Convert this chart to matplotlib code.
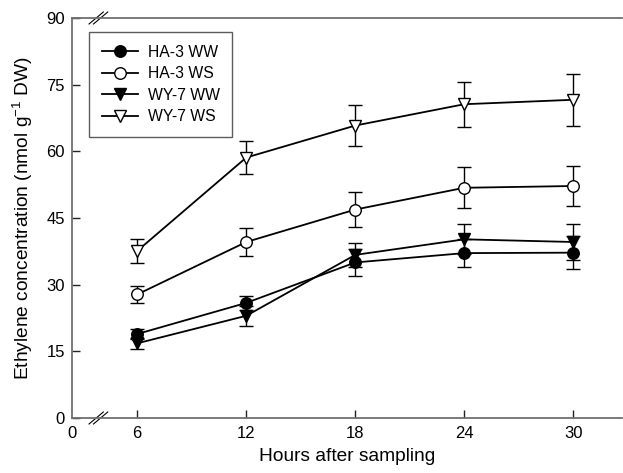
import matplotlib
matplotlib.use("Agg")
import matplotlib.pyplot as plt
from matplotlib.lines import Line2D

hours = [6, 12, 18, 24, 30]
ha3_ww = [18.9, 25.9, 35.0, 37.1, 37.2]
ha3_ww_err = [1.1, 1.6, 3.0, 3.2, 3.7]
ha3_ws = [27.8, 39.6, 46.9, 51.8, 52.2]
ha3_ws_err = [2.0, 3.1, 3.9, 4.6, 4.6]
wy7_ww = [16.8, 23.0, 36.7, 40.2, 39.6]
wy7_ww_err = [1.2, 2.3, 2.7, 3.4, 4.0]
wy7_ws = [37.6, 58.6, 65.8, 70.6, 71.6]
wy7_ws_err = [2.7, 3.8, 4.7, 5.1, 5.8]
labels = ["HA-3 WW", "HA-3 WS", "WY-7 WW", "WY-7 WS"]
yticks = [0, 15, 30, 45, 60, 75, 90]

plt.rcParams['font.family'] = ['Liberation Sans', 'DejaVu Sans']
plt.rcParams['mathtext.default'] = 'regular'
fig = plt.figure(figsize=(6.23, 4.73), dpi=100)
ax = fig.add_axes([72/623, 55/473, 550/623, 400/473])

series = [
    (ha3_ww, ha3_ww_err, 'o', 'black'),
    (ha3_ws, ha3_ws_err, 'o', 'white'),
    (wy7_ww, wy7_ww_err, 'v', 'black'),
    (wy7_ws, wy7_ws_err, 'v', 'white'),
]
handles = []
for (vals, err, m, fc), lab in zip(series, labels):
    ax.errorbar(hours, vals, yerr=err, fmt='-', marker=m, color='black',
                mfc=fc, mec='black', ms=8.3, mew=1.0, lw=1.3,
                elinewidth=1.0, capsize=4.7, capthick=1.0)
    handles.append(Line2D([], [], color='black', marker=m, mfc=fc, mec='black',
                          ms=8.3, mew=1.0, lw=1.3, label=lab))

xl = 2.41
ax.set_xlim(xl, 32.68)
ax.set_ylim(0, 90)
ax.set_xticks([xl] + hours)
ax.set_xticklabels(['0'] + [str(h) for h in hours])
ax.set_yticks(yticks)
ax.tick_params(direction='in', width=1.0, labelsize=12, color='#222222')
ax.tick_params(axis='y', length=5.5, pad=5)
ax.tick_params(axis='x', length=6, pad=6)
ax.xaxis.get_major_ticks()[0].tick1line.set_visible(False)
ax.spines['right'].set_visible(False)
for s in ['left', 'top', 'bottom']:
    ax.spines[s].set_color('#707070')
    ax.spines[s].set_linewidth(1.3)

# axis break marks
for y0 in (0, 1):
    for dx in (0, 0.008):
        ax.plot([0.031 + dx, 0.057 + dx], [y0 - 0.015, y0 + 0.015],
                transform=ax.transAxes, color='black', lw=0.8, clip_on=False)

ax.set_xlabel("Hours after sampling", fontsize=13.8, labelpad=5)
ax.set_ylabel("Ethylene concentration (nmol g$^{-1}$ DW)", fontsize=13.8, labelpad=8)

leg = ax.legend(handles=handles, loc='upper left', bbox_to_anchor=(0.031, 0.965),
                borderaxespad=0, fontsize=11.3,
                frameon=True, fancybox=False, edgecolor='#333333',
                handlelength=2.35, borderpad=0.8, labelspacing=0.42,
                handletextpad=0.6)
leg.get_frame().set_linewidth(1.0)

fig.savefig("out.png", dpi=100)
